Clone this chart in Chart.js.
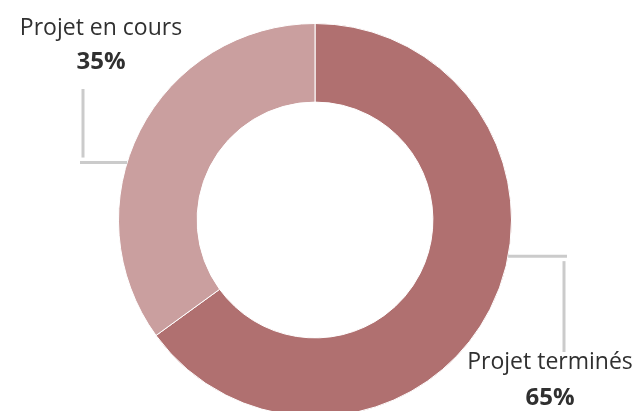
<!DOCTYPE html>
<html>
<head>
<meta charset="utf-8">
<script src="https://cdn.jsdelivr.net/npm/chart.js@4.4.1/dist/chart.umd.min.js"></script>
<style>
    html, body { margin: 0; padding: 0; background: #fff; overflow: hidden; }
    #wrap { position: relative; width: 636px; height: 417px; }
</style>
</head>
<body>
<div id="wrap"><canvas id="chart"></canvas></div>
<script>
// données du graphique
const labels = ["Projet terminés", "Projet en cours"];
const values = [65, 35];
const colors = ["#B07070", "#CA9F9F"];

// position des étiquettes (relatives au centre du donut)
const labelLayout = [
    { angle: 10.6, elbowX: 249, lineEndY: 132, textX: 235, nameY: 142, pctY: 178 },
    { angle: 197, elbowX: -232, lineEndY: -131, textX: -214, nameY: -192, pctY: -158 }
];

const calloutPlugin = {
    id: 'callouts',
    afterDraw(chart) {
        const ctx = chart.ctx;
        const meta = chart.getDatasetMeta(0);
        const total = values.reduce((a, b) => a + b, 0);
        meta.data.forEach((arc, i) => {
            const L = labelLayout[i];
            const cx = arc.x, cy = arc.y, r = arc.outerRadius;
            const a = L.angle * Math.PI / 180;
            const px = cx + r * Math.cos(a);
            const py = cy + r * Math.sin(a);
            const dir = Math.sign(L.elbowX);
            const up = Math.sign(L.lineEndY);

            ctx.save();
            ctx.strokeStyle = "#cbcbcb";
            ctx.lineWidth = 3;
            ctx.beginPath();
            ctx.moveTo(px, py);
            ctx.lineTo(cx + L.elbowX + dir * 3, py);
            ctx.stroke();
            ctx.beginPath();
            ctx.moveTo(cx + L.elbowX, py + up * 5);
            ctx.lineTo(cx + L.elbowX, cy + L.lineEndY);
            ctx.stroke();

            ctx.textAlign = "center";
            ctx.textBaseline = "middle";
            ctx.fillStyle = "#303030";
            ctx.font = "23px 'Open Sans'";
            ctx.fillText(labels[i], cx + L.textX, cy + L.nameY);
            ctx.font = "bold 24px 'Open Sans'";
            ctx.fillText(Math.round(values[i] / total * 100) + "%", cx + L.textX, cy + L.pctY);
            ctx.restore();
        });
    }
};

new Chart(document.getElementById("chart"), {
    type: 'doughnut',
    data: {
        labels: labels,
        datasets: [{
            data: values,
            backgroundColor: colors,
            borderColor: "#ffffff",
            borderWidth: 1
        }]
    },
    options: {
        responsive: true,
        maintainAspectRatio: false,
        animation: false,
        cutout: '60%',
        layout: { padding: { top: 23, bottom: 0, left: 0, right: 6 } },
        plugins: {
            legend: { display: false },
            tooltip: { enabled: false }
        }
    },
    plugins: [calloutPlugin]
});
</script>
</body>
</html>
